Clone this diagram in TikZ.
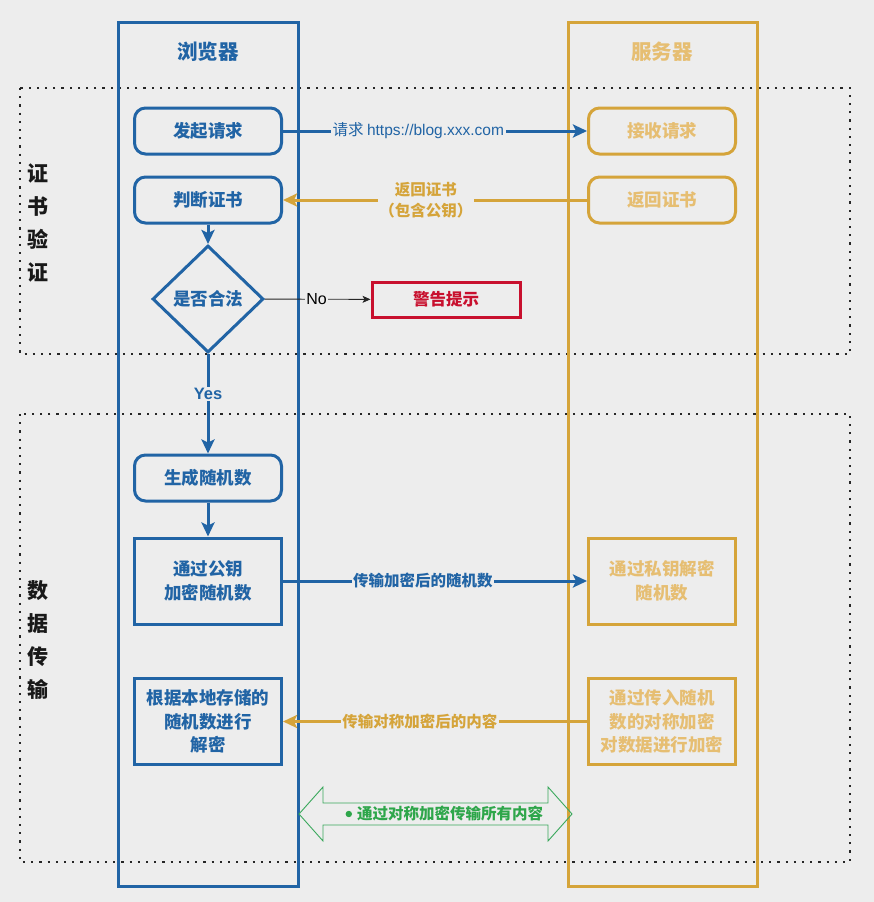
\documentclass[tikz,border=0pt]{standalone}
\usepackage{fontspec}
\setmainfont{Noto Sans CJK SC}
\newfontfamily\latinfont{Liberation Sans}
\usetikzlibrary{shapes.geometric,arrows.meta}
\definecolor{bgc}{HTML}{EDEDED}
\definecolor{lblue}{HTML}{2164A5}
\definecolor{gold}{HTML}{D5A43A}
\definecolor{lgold}{HTML}{E6BE72}
\definecolor{wred}{HTML}{C8102E}
\definecolor{gline}{HTML}{3AA85C}
\definecolor{gtext}{HTML}{2EA64A}
\begin{document}
\begin{tikzpicture}[x=1pt,y=-1pt,
  sec/.style={draw=black!85, line width=2.2pt, dash pattern=on 2.2pt off 6pt},
  lane/.style={draw=#1, line width=3pt, minimum width=180pt, minimum height=864pt, inner sep=0pt},
  ttl/.style={font=\fontsize{20.5}{24}\selectfont\bfseries},
  side/.style={font=\fontsize{21}{33}\selectfont\bfseries, text=black!90, align=center},
  nbase/.style={line width=3pt, minimum width=147pt, inner sep=2pt, align=center,
     font=\fontsize{17.5}{23.5}\selectfont\bfseries},
  brbox/.style={nbase, draw=lblue, text=lblue, rounded corners=11pt, minimum height=46pt},
  bsbox/.style={nbase, draw=lblue, text=lblue, minimum height=86pt},
  srbox/.style={nbase, draw=gold, text=lgold, rounded corners=11pt, minimum height=46pt},
  ssbox/.style={nbase, draw=gold, text=lgold, minimum height=86pt},
  barrow/.style={draw=lblue, line width=3pt, -{Stealth[length=14pt,width=13pt,inset=3pt]}},
  garrow/.style={draw=gold, line width=3pt, -{Stealth[length=14pt,width=13pt,inset=3pt]}},
  lbl/.style={fill=bgc, inner sep=1.5pt, font=\fontsize{15.5}{20}\selectfont},
]
\fill[bgc] (0,0) rectangle (874,902);
\useasboundingbox (0,0) rectangle (874,902);

% sections
\draw[sec] (20,88) rectangle (850,354);
\draw[sec] (20,414) rectangle (850,862);
\node[side] (s1) at (38,223) {证\\书\\验\\证};
\node[side] (s2) at (38,640) {数\\据\\传\\输};

% lanes
\node[lane=lblue] (laneB) at (208,454) {};
\node[lane=gold, minimum width=189pt] (laneS) at (662.5,454) {};
\node[ttl, text=lblue] (tB) at (208,52) {浏览器};
\node[ttl, text=lgold] (tS) at (662,52) {服务器};

% browser nodes
\node[brbox] (req) at (208,131) {发起请求};
\node[brbox] (judge) at (208,200) {判断证书};
\node[diamond, draw=lblue, line width=3pt, minimum width=111pt, minimum height=107pt,
      inner sep=0pt, text=lblue, font=\fontsize{17.5}{20}\selectfont\bfseries] (legal) at (208,299) {是否合法};
\node[draw=wred, line width=3pt, minimum width=148pt, minimum height=35pt, text=wred,
      font=\fontsize{16.5}{20}\selectfont\bfseries] (warn) at (446,299.5) {警告提示};
\node[brbox] (gen) at (208,478) {生成随机数};
\node[bsbox] (enc) at (208,581) {通过公钥\\加密随机数};
\node[bsbox] (dec) at (208,721.5) {根据本地存储的\\随机数进行\\解密};

% server nodes
\node[srbox] (recv) at (662,131) {接收请求};
\node[srbox] (ret) at (662,200) {返回证书};
\node[ssbox] (sdec) at (662,581) {通过私钥解密\\随机数};
\node[ssbox] (senc) at (662,721.5) {通过传入随机\\数的对称加密\\对数据进行加密};

% connectors
\draw[barrow] (req) -- node[lbl, text=lblue, pos=0.445] {请求 {\latinfont https://blog.xxx.com}} (recv);
\draw[garrow] (ret) -- node[lbl, text=gold, align=center, font=\fontsize{15.5}{21}\selectfont\bfseries, pos=0.53] {返回证书\\（包含公钥）} (judge);
\draw[barrow] (judge) -- (legal);
\draw[draw=black!85, line width=0.9pt, -{Stealth[length=8pt,width=7pt,inset=2pt]}] (legal) -- node[lbl, text=black, font=\fontsize{16}{20}\selectfont\latinfont, pos=0.49] {No} (warn);
\draw[barrow] (legal) -- node[lbl, text=lblue, font=\fontsize{16.5}{20}\selectfont\latinfont\bfseries, pos=0.4] {Yes} (gen);
\draw[barrow] (gen) -- (enc);
\draw[barrow] (enc) -- node[lbl, text=lblue, font=\fontsize{15.5}{20}\selectfont\bfseries, pos=0.46] {传输加密后的随机数} (sdec);
\draw[garrow] (senc) -- node[lbl, text=gold, font=\fontsize{15.5}{20}\selectfont\bfseries, pos=0.55] {传输对称加密后的内容} (dec);

% double arrow
\draw[gline, line width=0.9pt] (299,814) -- (323,787) -- (323,803) -- (548,803) -- (548,787)
  -- (572,814) -- (548,841) -- (548,825) -- (323,825) -- (323,841) -- cycle;
\node[text=gtext, font=\fontsize{15.5}{20}\selectfont\bfseries, inner sep=0pt] (all) at (450,814) {通过对称加密传输所有内容};
\fill[gtext] ([xshift=-8pt]all.west) circle (3.2pt);
\end{tikzpicture}
\end{document}
